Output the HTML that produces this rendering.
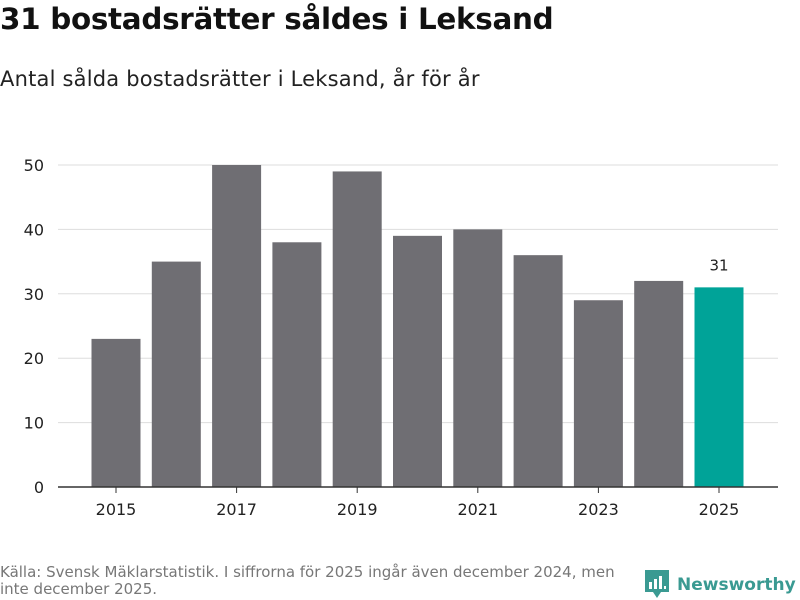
<!DOCTYPE html>
<html><head><meta charset="utf-8"><style>
body{margin:0;width:800px;height:600px;background:#fff;font-family:"DejaVu Sans","Liberation Sans",sans-serif;overflow:hidden;position:relative}
h1{position:absolute;left:0;top:2px;margin:0;font-size:29.4px;font-weight:bold;color:#111;letter-spacing:-0.3px}
.sub{position:absolute;left:0;top:67px;font-size:21px;color:#222;letter-spacing:0.2px}
.src{position:absolute;left:0;top:564px;font-size:15px;color:#777;line-height:17px;width:640px}
.logo{position:absolute;left:645px;top:570px;display:flex;align-items:center;color:#3a9a92;font-size:17px;font-weight:bold;white-space:nowrap}
</style></head><body>
<h1>31 bostadsrätter såldes i Leksand</h1>
<div class="sub">Antal sålda bostadsrätter i Leksand, år för år</div>
<svg id="chart" width="800" height="600" style="position:absolute;left:0;top:0"></svg>
<div class="src">Källa: Svensk Mäklarstatistik. I siffrorna för 2025 ingår även december 2024, men inte december 2025.</div>
<div class="logo"><svg width="24" height="30" viewBox="0 0 24 30"><path d="M0 0h24v22h-8l-4 6-4-6H0z" fill="#3a9a92"/><rect x="4" y="12" width="3" height="7" fill="#fff"/><rect x="9" y="9" width="3" height="10" fill="#fff"/><rect x="14" y="6" width="3" height="13" fill="#fff"/><rect x="19" y="16" width="2" height="3" fill="#fff"/></svg><span style="margin-left:8px">Newsworthy</span></div>
<script>
const years=[2015,2016,2017,2018,2019,2020,2021,2022,2023,2024,2025];
const values=[23,35,50,38,49,39,40,36,29,32,31];
const yTicks=[0,10,20,30,40,50];
const svg=document.getElementById('chart');
const NS='http://www.w3.org/2000/svg';
const y=v=>487-v*6.44;
const x=i=>116+i*60.3;
function mk(t,a){const e=document.createElementNS(NS,t);for(const k in a)e.setAttribute(k,a[k]);svg.appendChild(e);return e;}
yTicks.forEach(t=>{
 if(t>0){const l=mk('line',{x1:58,x2:778,y1:y(t),y2:y(t),stroke:'#ddd','stroke-width':1});
 
 }
 const tx=mk('text',{x:44,y:y(t)+6,'text-anchor':'end','font-size':16,fill:'#222'});tx.textContent=t;
 
 
});
values.forEach((v,i)=>{
 const last=i===values.length-1;
 const r=mk('rect',{x:x(i)-24.5,y:y(v),width:49,height:487-y(v),fill:last?'#00a398':'#6f6e73'});
 
 
 if(last){const t=mk('text',{x:x(i),y:y(v)-17,'text-anchor':'middle','font-size':15,fill:'#222'});t.textContent=v;
 
 }
 if(i%2===0){
  mk('line',{x1:x(i),x2:x(i),y1:487,y2:493,stroke:'#333'});
  const t=mk('text',{x:x(i),y:515,'text-anchor':'middle','font-size':16,fill:'#222'});t.textContent=years[i];
  
  
 }
});
const ax=mk('line',{x1:58,x2:778,y1:487,y2:487,stroke:'#333','stroke-width':1.5});


</script>
</body></html>
